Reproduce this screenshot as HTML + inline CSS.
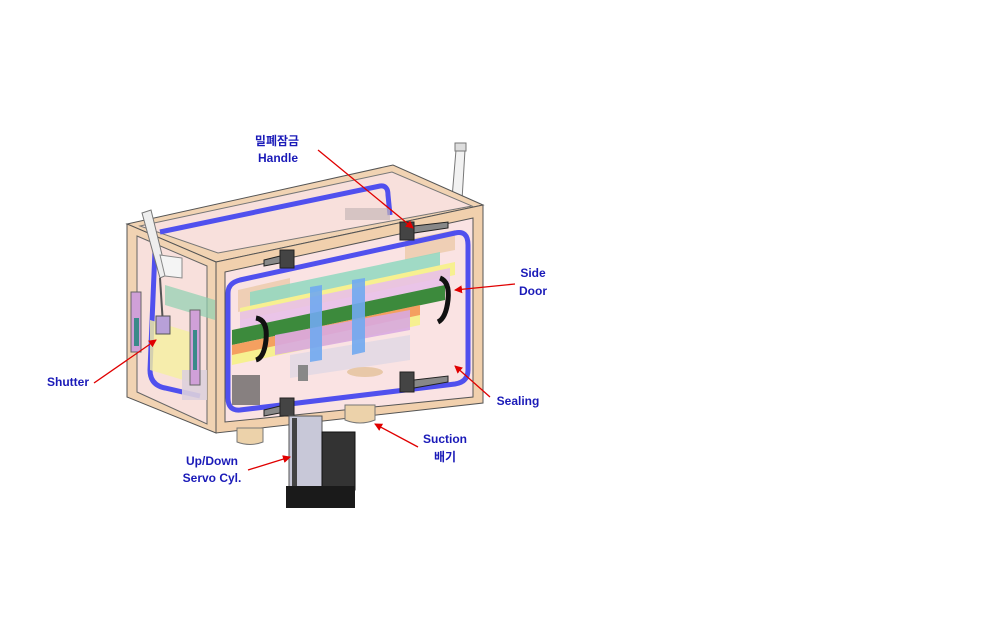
<!DOCTYPE html>
<html><head><meta charset="utf-8"><style>
html,body{margin:0;padding:0;background:#fff;}
svg{display:block}
text{font-family:"Liberation Sans","Noto Sans CJK KR",sans-serif;font-weight:bold;font-size:12px;fill:#1a1ab8;text-anchor:middle}
</style></head><body>
<svg width="981" height="633" viewBox="0 0 981 633" xmlns="http://www.w3.org/2000/svg">
<defs>
<marker id="ar" markerWidth="8" markerHeight="8" refX="7" refY="4" orient="auto" markerUnits="userSpaceOnUse">
<path d="M0,0 L8,4 L0,8 z" fill="#e00000"/></marker>
</defs>
<!-- back pipe -->
<polygon points="456,150 465,150 462,200 452,198" fill="#f2f2f2" stroke="#777"/>
<rect x="455" y="143" width="11" height="8" fill="#ddd" stroke="#777"/>
<!-- top face -->
<polygon points="127,224 393,165 483,205 216,262" fill="#f1d3b3" stroke="#555"/>
<polygon points="140,226 392,172 472,206 218,253" fill="#f8e0dc" stroke="#777"/>
<path d="M160,232 L380,186 Q388,185 388,195 L390,215" fill="none" stroke="#5050ee" stroke-width="5"/>
<rect x="345" y="208" width="45" height="12" fill="#c8b8b8" opacity="0.7"/>
<!-- left face -->
<polygon points="127,224 216,262 216,433 127,397" fill="#f1d3b3" stroke="#555"/>
<polygon points="137,236 207,266 207,424 137,392" fill="#f8e0dc" stroke="#666"/>
<path d="M155,250 L150,370 Q150,385 165,388 L200,396" fill="none" stroke="#5050ee" stroke-width="5"/>
<!-- shutter inner -->
<polygon points="150,320 200,335 200,385 150,370" fill="#f5f0a0" opacity="0.8"/>
<polygon points="165,285 215,300 215,320 165,305" fill="#8fd0b0" opacity="0.7"/>
<rect x="182" y="370" width="25" height="30" fill="#ddd0dc" opacity="0.9"/>
<rect x="131" y="292" width="10" height="60" fill="#d0a0d8" stroke="#666"/>
<rect x="134" y="318" width="5" height="28" fill="#3a8a8a"/>
<rect x="190" y="310" width="10" height="75" fill="#d0a0d8" stroke="#666"/>
<rect x="193" y="330" width="4" height="40" fill="#3a8a8a"/>
<polygon points="142,213 151,210 167,275 160,278" fill="#eee" stroke="#777"/>
<line x1="160" y1="278" x2="163" y2="325" stroke="#555" stroke-width="2"/>
<rect x="156" y="316" width="14" height="18" fill="#b8a0d8" stroke="#555"/>
<polygon points="160,255 182,258 182,278 165,276" fill="#f4f4f4" stroke="#888"/>
<!-- front frame -->
<polygon points="216,262 483,205 483,403 216,433" fill="#f1d0ad" stroke="#555"/>
<polygon points="225,272 473,218 473,397 225,422" fill="#fae3e3" stroke="#555"/>
<!-- interior -->
<polygon points="238,290 290,278 290,300 238,312" fill="#efcfb5"/>
<polygon points="405,240 455,230 455,250 405,260" fill="#efcfb5"/>
<polygon points="250,292 440,252 440,266 250,306" fill="#8fd8c0" opacity="0.85"/>
<polygon points="240,308 455,262 455,275 240,320" fill="#f7f090"/>
<polygon points="240,312 450,268 450,285 240,330" fill="#e8c0e8" opacity="0.9"/>
<polygon points="232,330 445,285 445,300 232,345" fill="#3c8a3c"/>
<polygon points="232,345 420,305 420,320 232,358" fill="#f4a060"/>
<polygon points="232,355 420,315 420,325 232,365" fill="#f6f090"/>
<polygon points="275,335 410,310 410,330 275,355" fill="#d8a8e0" opacity="0.9"/>
<polygon points="290,355 410,335 410,360 290,378" fill="#e0d8e4" opacity="0.85"/>
<polygon points="310,287 322,285 322,360 310,362" fill="#70a8f0" opacity="0.9"/>
<polygon points="352,280 365,278 365,352 352,355" fill="#70a8f0" opacity="0.9"/>
<rect x="232" y="375" width="28" height="30" fill="#555" opacity="0.7"/>
<ellipse cx="365" cy="372" rx="18" ry="5" fill="#e8c8a8"/>
<rect x="298" y="365" width="10" height="16" fill="#888"/>
<!-- handles -->
<path d="M256,318 Q268,320 266,340 Q264,358 256,360" fill="none" stroke="#111" stroke-width="5"/>
<path d="M440,278 Q450,282 448,300 Q446,318 438,322" fill="none" stroke="#111" stroke-width="5"/>
<!-- seal -->
<path d="M240,280 L455,233 Q468,230 468,245 L468,370 Q468,382 455,384 L240,410 Q228,411 228,398 L228,293 Q228,283 240,280 Z" fill="none" stroke="#5050ee" stroke-width="5"/>
<!-- latches -->
<g fill="#444" stroke="#222">
<rect x="400" y="222" width="14" height="18"/><polygon points="414,226 448,222 448,228 414,233" fill="#888"/>
<rect x="280" y="250" width="14" height="18"/><polygon points="264,260 280,256 280,263 264,266" fill="#888"/>
<rect x="400" y="372" width="14" height="20"/><polygon points="414,380 448,376 448,382 414,388" fill="#888"/>
<rect x="280" y="398" width="14" height="18"/><polygon points="264,410 280,406 280,413 264,416" fill="#888"/>
</g>
<!-- bottom parts -->
<path d="M237,428 L263,428 L263,442 Q250,447 237,442 Z" fill="#ecd2aa" stroke="#777"/>
<path d="M345,405 L375,405 L375,420 Q360,426 345,420 Z" fill="#ecd2aa" stroke="#777"/>
<rect x="289" y="416" width="33" height="78" fill="#c8c8d8" stroke="#555"/>
<rect x="292" y="418" width="5" height="74" fill="#444"/>
<rect x="322" y="432" width="33" height="58" fill="#333" stroke="#111"/>
<rect x="286" y="486" width="69" height="22" fill="#1a1a1a"/>
<!-- arrows -->
<g stroke="#e00000" stroke-width="1.3" marker-end="url(#ar)">
<line x1="318" y1="150" x2="413" y2="228"/>
<line x1="515" y1="284" x2="455" y2="290"/>
<line x1="94" y1="383" x2="156" y2="340"/>
<line x1="490" y1="397" x2="455" y2="366"/>
<line x1="418" y1="447" x2="375" y2="424"/>
<line x1="248" y1="470" x2="290" y2="457"/>
</g>
<text x="277" y="145">밀폐잠금</text>
<text x="278" y="162">Handle</text>
<text x="533" y="277">Side</text>
<text x="533" y="295">Door</text>
<text x="68" y="386">Shutter</text>
<text x="518" y="405">Sealing</text>
<text x="445" y="443">Suction</text>
<text x="445" y="461">배기</text>
<text x="212" y="465">Up/Down</text>
<text x="212" y="482">Servo Cyl.</text>
</svg>
</body></html>
